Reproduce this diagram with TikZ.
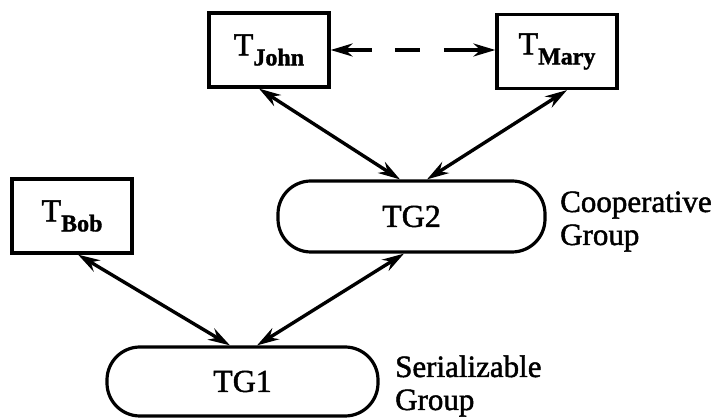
\documentclass[tikz,border=0pt]{standalone}
\usepackage{fontspec}
\setmainfont{Liberation Serif}[FakeBold=1.5]
\usetikzlibrary{arrows.meta}
\newcommand\tname[1]{{\fontsize{32}{32}\selectfont T}\raisebox{-10pt}{\fontsize{24}{24}\selectfont\bfseries #1}}
\begin{document}
\begin{tikzpicture}[x=1pt,y=-1pt,
  tbox/.style={draw, line width=3.2pt, minimum width=120pt, minimum height=74pt, inner sep=0pt},
  grp/.style={draw, line width=3.2pt, rounded corners=33pt, inner sep=0pt, font=\fontsize{32}{32}\selectfont},
  lbl/.style={font=\fontsize{31}{33}\selectfont, align=left, inner sep=0pt},
  link/.style={line width=3.4pt, {Stealth[length=22pt,width=13pt]}-{Stealth[length=22pt,width=13pt]}},
]
\useasboundingbox (0,0) rectangle (716,419);
\node[tbox] (john) at (269,50) {\tname{John}};
\node[tbox] (mary) at (557,51.5) {\tname{Mary}};
\node[tbox] (bob) at (72,216) {\tname{Bob}};
\node[grp, minimum width=267pt, minimum height=71pt] (tg2) at (411.5,216.5) {TG2};
\node[grp, minimum width=271pt, minimum height=69pt] (tg1) at (242.5,381.5) {TG1};
\node[lbl, anchor=base west] (coop) at (560,245) {Cooperative\\Group};
\node[lbl, anchor=base west] (ser) at (395,410) {Serializable\\Group};
\draw[link, dash pattern=on 28pt off 23pt on 25pt off 24pt on 60pt off 0pt] (john.east) -- (john.east -| mary.west);
\draw[link] ([xshift=-10pt]john.south) -- ([xshift=-11.5pt]tg2.north);
\draw[link] ([xshift=10pt]mary.south) -- ([xshift=15.5pt]tg2.north);
\draw[link] ([xshift=6pt]bob.south) -- ([xshift=-12.5pt]tg1.north);
\draw[link] ([xshift=-7.5pt]tg2.south) -- ([xshift=14.5pt]tg1.north);
\end{tikzpicture}
\end{document}
